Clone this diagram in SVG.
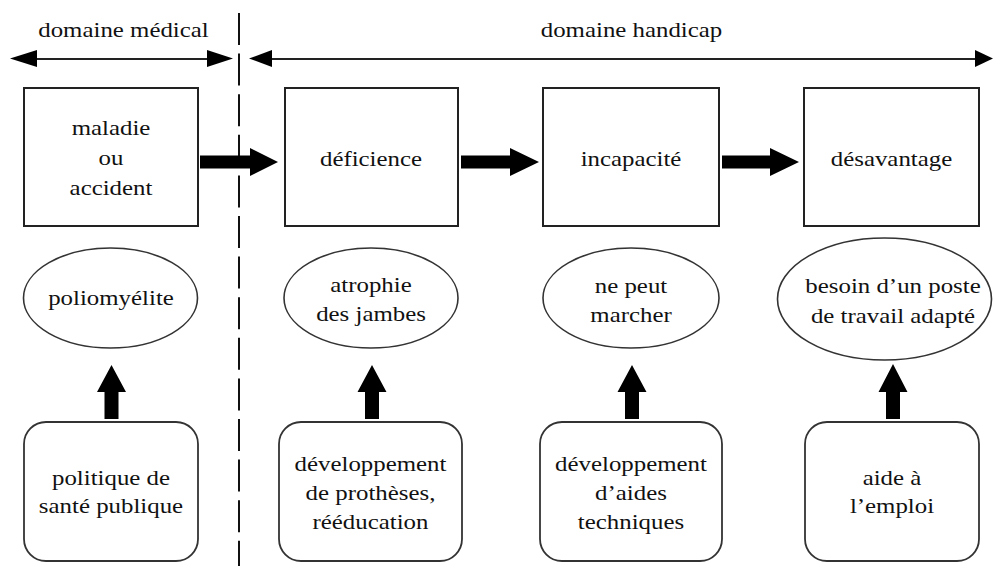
<svg xmlns="http://www.w3.org/2000/svg" width="993" height="566" viewBox="0 0 993 566">
<style>
text{font-family:'Liberation Serif','Times New Roman',serif;font-size:22px;fill:#111;text-anchor:middle}
.box{fill:#fff;stroke:#222;stroke-width:2}
.ell{fill:#fff;stroke:#333;stroke-width:1.6}
.rbox{fill:#fff;stroke:#333;stroke-width:1.8}
.thin{stroke:#222;stroke-width:2;fill:none}
.head{fill:#000}
.dash{stroke:#111;stroke-width:2;stroke-dasharray:32 8.6;fill:none}
</style>
<g id="connectors">
<line class="dash" x1="239" y1="13" x2="239" y2="566"/>
<line class="thin" x1="30" y1="59" x2="215" y2="59"/>
<polygon class="head" points="10,58.5 37,50 37,67"/>
<polygon class="head" points="233,58.5 207,50 207,67"/>
<line class="thin" x1="265" y1="59" x2="980" y2="59"/>
<polygon class="head" points="249,58.5 272,50 272,67"/>
<polygon class="head" points="993,58.5 975,50 975,67"/>
<polygon class="head" points="200,155.5 250,155.5 250,148 278,162 250,176 250,168.5 200,168.5"/>
<polygon class="head" points="461,155.5 510,155.5 510,148 539,162 510,176 510,168.5 461,168.5"/>
<polygon class="head" points="722,155.5 770,155.5 770,148 799,162 770,176 770,168.5 722,168.5"/>
<polygon class="head" points="111.5,365 126,392 118.5,392 118.5,419 104.5,419 104.5,392 97,392"/>
<polygon class="head" points="372,365 386.5,392 379,392 379,419 365,419 365,392 357.5,392"/>
<polygon class="head" points="632,365 646.5,392 639,392 639,419 625,419 625,392 617.5,392"/>
<polygon class="head" points="893,364 907.5,392 900,392 900,419 886,419 886,392 878.5,392"/>
</g>
<g id="label-medical"><g transform="translate(123.5,0) scale(1.13,1)"><text x="0" y="37">domaine médical</text></g></g>
<g id="label-handicap"><g transform="translate(631.5,0) scale(1.13,1)"><text x="0" y="37">domaine handicap</text></g></g>
<g id="maladie">
<rect class="box" x="24" y="88" width="174" height="138"/>
<g transform="translate(111,0) scale(1.13,1)"><text x="0" y="135">maladie</text><text x="0" y="165">ou</text><text x="0" y="195">accident</text></g>
</g>
<g id="deficience">
<rect class="box" x="285" y="88" width="173" height="138"/>
<g transform="translate(371,0) scale(1.13,1)"><text x="0" y="166">déficience</text></g>
</g>
<g id="incapacite">
<rect class="box" x="543" y="88" width="176" height="138"/>
<g transform="translate(631,0) scale(1.13,1)"><text x="0" y="166">incapacité</text></g>
</g>
<g id="desavantage">
<rect class="box" x="804" y="88" width="175" height="138"/>
<g transform="translate(891.5,0) scale(1.13,1)"><text x="0" y="166">désavantage</text></g>
</g>
<g id="poliomyelite">
<ellipse class="ell" cx="110.5" cy="298" rx="87" ry="50"/>
<g transform="translate(111,0) scale(1.13,1)"><text x="0" y="305">poliomyélite</text></g>
</g>
<g id="atrophie">
<ellipse class="ell" cx="371" cy="298" rx="87" ry="50"/>
<g transform="translate(371,0) scale(1.13,1)"><text x="0" y="292">atrophie</text><text x="0" y="321">des jambes</text></g>
</g>
<g id="ne-peut-marcher">
<ellipse class="ell" cx="631" cy="298" rx="88" ry="50"/>
<g transform="translate(631,0) scale(1.13,1)"><text x="0" y="293">ne peut</text><text x="0" y="322">marcher</text></g>
</g>
<g id="besoin-poste">
<ellipse class="ell" cx="884.5" cy="299" rx="107" ry="61"/>
<g transform="translate(893,0) scale(1.13,1)"><text x="0" y="293">besoin d’un poste</text><text x="0" y="323">de travail adapté</text></g>
</g>
<g id="politique-sante">
<rect class="rbox" x="24" y="422" width="174" height="139" rx="22" ry="22"/>
<g transform="translate(111,0) scale(1.13,1)"><text x="0" y="485">politique de</text><text x="0" y="513">santé publique</text></g>
</g>
<g id="protheses">
<rect class="rbox" x="279" y="422" width="183" height="139" rx="22" ry="22"/>
<g transform="translate(370.5,0) scale(1.13,1)"><text x="0" y="471">développement</text><text x="0" y="500">de prothèses,</text><text x="0" y="529">rééducation</text></g>
</g>
<g id="aides-techniques">
<rect class="rbox" x="540" y="422" width="182" height="139" rx="22" ry="22"/>
<g transform="translate(631,0) scale(1.13,1)"><text x="0" y="471">développement</text><text x="0" y="500">d’aides</text><text x="0" y="529">techniques</text></g>
</g>
<g id="aide-emploi">
<rect class="rbox" x="805" y="422" width="174" height="139" rx="22" ry="22"/>
<g transform="translate(892,0) scale(1.13,1)"><text x="0" y="485">aide à</text><text x="0" y="513">l’emploi</text></g>
</g>
</svg>
